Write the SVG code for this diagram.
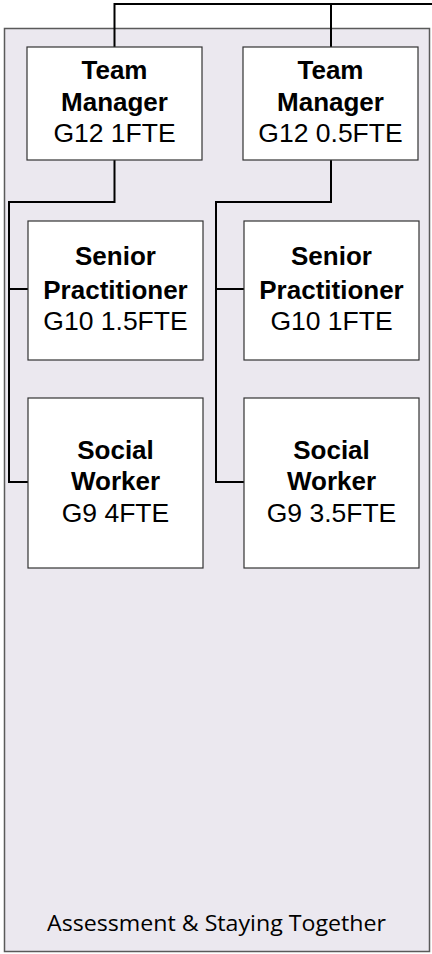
<svg xmlns="http://www.w3.org/2000/svg" width="432" height="954" viewBox="0 0 432 954">
<style>
.cont{fill:#ebe8ef;stroke:#5a5a5a;stroke-width:1.5}
.box{fill:#ffffff;stroke:#333333;stroke-width:1.2}
.b{font-family:"Liberation Sans",Arial,sans-serif;font-weight:bold;font-size:26px;fill:#000;text-anchor:middle}
.r{font-family:"Liberation Sans",Arial,sans-serif;font-size:26.5px;fill:#000;text-anchor:middle}
.lbl{font-family:"Open Sans","Noto Sans",sans-serif;font-size:21px;fill:#000}
.conn{fill:none;stroke:#000;stroke-width:2}
</style>
<g id="container">
<rect class="cont" x="4.5" y="28.5" width="425" height="923"/>
<text class="lbl" x="47" y="931" textLength="339" lengthAdjust="spacingAndGlyphs">Assessment &amp; Staying Together</text>
</g>
<g id="connectors">
<path class="conn" d="M432,4 H114.5 V47"/>
<path class="conn" d="M331,4 V47"/>
<path class="conn" d="M114.5,160 V202 H9 V482 H28"/>
<path class="conn" d="M9,289 H28"/>
<path class="conn" d="M331,160 V202 H216 V482 H244"/>
<path class="conn" d="M216,289 H244"/>
</g>
<g id="tm1">
<rect class="box" x="27" y="47" width="175" height="113"/>
<text class="b" x="114.5" y="79">Team</text>
<text class="b" x="114.5" y="111">Manager</text>
<text class="r" x="114.5" y="142">G12 1FTE</text>
</g>
<g id="tm2">
<rect class="box" x="243" y="47" width="175" height="113"/>
<text class="b" x="330.5" y="79">Team</text>
<text class="b" x="330.5" y="111">Manager</text>
<text class="r" x="330.5" y="142">G12 0.5FTE</text>
</g>
<g id="sp1">
<rect class="box" x="28" y="221" width="175" height="139"/>
<text class="b" x="115.5" y="265">Senior</text>
<text class="b" x="115.5" y="299">Practitioner</text>
<text class="r" x="115.5" y="330">G10 1.5FTE</text>
</g>
<g id="sp2">
<rect class="box" x="244" y="221" width="175" height="139"/>
<text class="b" x="331.5" y="265">Senior</text>
<text class="b" x="331.5" y="299">Practitioner</text>
<text class="r" x="331.5" y="330">G10 1FTE</text>
</g>
<g id="sw1">
<rect class="box" x="28" y="398" width="175" height="170"/>
<text class="b" x="115.5" y="459">Social</text>
<text class="b" x="115.5" y="490">Worker</text>
<text class="r" x="115.5" y="522">G9 4FTE</text>
</g>
<g id="sw2">
<rect class="box" x="244" y="398" width="175" height="170"/>
<text class="b" x="331.5" y="459">Social</text>
<text class="b" x="331.5" y="490">Worker</text>
<text class="r" x="331.5" y="522">G9 3.5FTE</text>
</g>
</svg>
